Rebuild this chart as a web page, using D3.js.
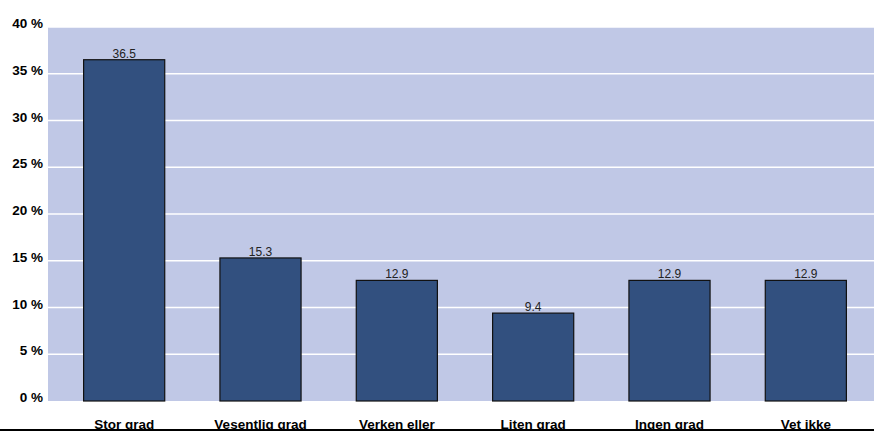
<!DOCTYPE html>
<html>
<head>
<meta charset="utf-8">
<script src="https://cdn.jsdelivr.net/npm/d3@7"></script>
<style>
html,body{margin:0;padding:0;background:#fff;}
svg{display:block;}
</style>
</head>
<body>
<svg id="chart" width="874" height="431"></svg>
<script>
const categories = ["Stor grad", "Vesentlig grad", "Verken eller", "Liten grad", "Ingen grad", "Vet ikke"];
const values = [36.5, 15.3, 12.9, 9.4, 12.9, 12.9];
const valueLabels = ["36.5", "15.3", "12.9", "9.4", "12.9", "12.9"];
const yTicks = [0, 5, 10, 15, 20, 25, 30, 35, 40];

const svg = d3.select("#chart");
const W = 874, H = 431;
const plotLeft = 48, plotRight = 874, plotTop = 27, plotBottom = 401;

const y = d3.scaleLinear().domain([0, 40]).range([plotBottom, plotTop]);
const x = d3.scaleBand().domain(categories).range([56, 874]).paddingInner(0).paddingOuter(0);
const barW = x.bandwidth() * 0.595;

svg.append("rect")
  .attr("x", plotLeft).attr("y", plotTop)
  .attr("width", plotRight - plotLeft).attr("height", plotBottom - plotTop)
  .attr("fill", "#C0C8E6");

svg.append("g").selectAll("line").data(yTicks.filter(d => d > 0)).join("line")
  .attr("x1", plotLeft).attr("x2", plotRight)
  .attr("y1", d => y(d)).attr("y2", d => y(d))
  .attr("stroke", "#ffffff").attr("stroke-width", 1.5);

svg.append("g").selectAll("text").data(yTicks).join("text")
  .attr("x", 43).attr("y", d => y(d) + 1)
  .attr("text-anchor", "end")
  .attr("font-family", "Liberation Sans, Arial, sans-serif")
  .attr("font-weight", "bold").attr("font-size", 13.5)
  .attr("fill", "#000")
  .text(d => d + " %");

svg.append("g").selectAll("rect").data(values).join("rect")
  .attr("x", (d, i) => x(categories[i]) + x.bandwidth() / 2 - barW / 2)
  .attr("y", d => y(d))
  .attr("width", barW)
  .attr("height", d => y(0) - y(d))
  .attr("fill", "#32507F")
  .attr("stroke", "#111")
  .attr("stroke-width", 1.2);

svg.append("g").selectAll("text").data(values).join("text")
  .attr("x", (d, i) => x(categories[i]) + x.bandwidth() / 2)
  .attr("y", d => y(d) - 2)
  .attr("text-anchor", "middle")
  .attr("font-family", "Liberation Sans, Arial, sans-serif")
  .attr("font-size", 12)
  .attr("fill", "#222")
  .text((d, i) => valueLabels[i]);

svg.append("g").selectAll("text").data(categories).join("text")
  .attr("x", d => x(d) + x.bandwidth() / 2)
  .attr("y", 428.5)
  .attr("text-anchor", "middle")
  .attr("font-family", "Liberation Sans, Arial, sans-serif")
  .attr("font-weight", "bold").attr("font-size", 13.5)
  .attr("fill", "#000")
  .text(d => d);

svg.append("rect")
  .attr("x", 0).attr("y", 429).attr("width", W).attr("height", 2)
  .attr("fill", "#000");
</script>
</body>
</html>
